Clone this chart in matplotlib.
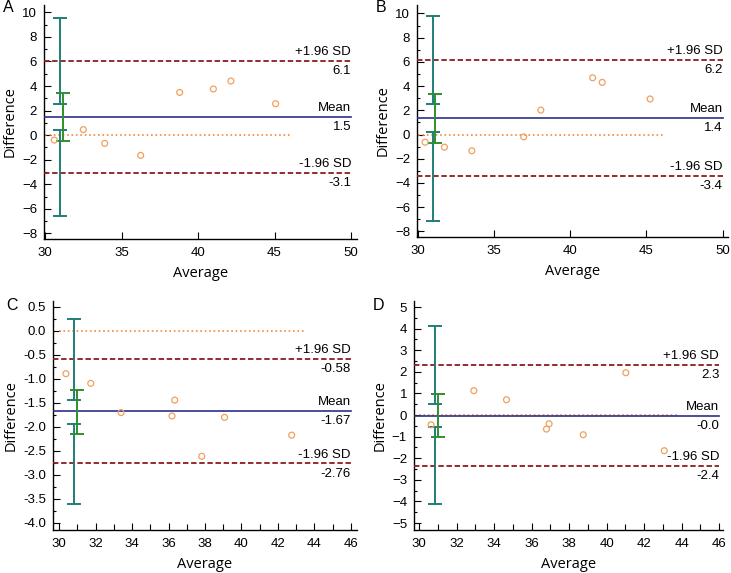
import matplotlib.pyplot as plt
from matplotlib.ticker import MultipleLocator

plt.rcParams['font.family'] = ['Liberation Sans', 'DejaVu Sans']

# --- data ------------------------------------------------------------------
A_avg = [30.6, 32.5, 33.9, 36.25, 38.8, 41.0, 42.15, 45.07]
A_diff = [-0.4, 0.45, -0.67, -1.65, 3.48, 3.76, 4.41, 2.56]
A_lines = [6.05, 1.49, -3.09]          # +1.96 SD, mean, -1.96 SD
A_labels = ['6.1', '1.5', '-3.1']
A_ci_hi = [2.56, 9.54]
A_ci_lo = [-6.56, 0.42]
A_ci_mean = [-0.45, 3.46]

B_avg = [30.48, 31.75, 33.55, 36.95, 38.07, 41.47, 42.1, 45.24]
B_diff = [-0.63, -1.04, -1.34, -0.19, 2.02, 4.69, 4.31, 2.94]
B_lines = [6.16, 1.35, -3.43]
B_labels = ['6.2', '1.4', '-3.4']
B_ci_hi = [2.51, 9.78]
B_ci_lo = [-7.11, 0.19]
B_ci_mean = [-0.68, 3.35]

C_avg = [30.38, 31.74, 33.4, 36.19, 36.34, 37.82, 39.07, 42.75]
C_diff = [-0.89, -1.09, -1.70, -1.77, -1.44, -2.61, -1.80, -2.17]
C_lines = [-0.58, -1.67, -2.76]
C_labels = ['-0.58', '-1.67', '-2.76']
C_ci_hi = [-1.43, 0.24]
C_ci_lo = [-3.60, -1.94]
C_ci_mean = [-2.14, -1.22]

D_avg = [30.64, 32.92, 34.66, 36.79, 36.93, 38.75, 41.02, 43.07]
D_diff = [-0.45, 1.13, 0.71, -0.65, -0.40, -0.91, 1.96, -1.65]
D_lines = [2.33, -0.03, -2.35]
D_labels = ['2.3', '-0.0', '-2.4']
D_ci_hi = [0.53, 4.10]
D_ci_lo = [-4.13, -0.57]
D_ci_mean = [-1.02, 0.96]

# --- layout / style --------------------------------------------------------
W, H = 731, 573
teal = '#1f7f78'
green = '#2f8f2f'
navy = '#2a2f8c'
darkred = '#8b1c1c'
orange = '#f0a060'

panels = [
    # letter, data..., pixel box (l, t, r, b), xlim, ylim, xmaj, xmin, ymaj, ymin,
    # x of teal bar, x of green bar, end of zero line, right end of lines
    ('A', A_avg, A_diff, A_lines, A_labels, A_ci_hi, A_ci_lo, A_ci_mean,
     (44, 5, 357, 239), (29.93, 50.39), (-8.46, 10.6), 5, None, 2, 1,
     31.0, 31.2, 46.0, 50),
    ('B', B_avg, B_diff, B_lines, B_labels, B_ci_hi, B_ci_lo, B_ci_mean,
     (417, 5, 728, 237), (29.95, 50.35), (-8.46, 10.7), 5, None, 2, 1,
     31.0, 31.15, 46.1, 50),
    ('C', C_avg, C_diff, C_lines, C_labels, C_ci_hi, C_ci_lo, C_ci_mean,
     (53, 301, 357, 530), (29.67, 46.33), (-4.146, 0.625), 2, 1, 0.5, 0.25,
     30.84, 30.99, 43.45, 46),
    ('D', D_avg, D_diff, D_lines, D_labels, D_ci_hi, D_ci_lo, D_ci_mean,
     (414, 301, 723, 530), (29.73, 46.2), (-5.32, 5.28), 2, 1, 1, 0.5,
     30.85, 31.01, 43.8, 46),
]

fig = plt.figure(figsize=(W / 100, H / 100), dpi=100)

for (letter, avg, diff, lines, labels, ci_hi, ci_lo, ci_mean, box, xlim, ylim,
     xmaj, xmin, ymaj, ymin, xteal, xgreen, zero_end, xright) in panels:
    l, t, r, b = box
    ax = fig.add_axes([l / W, 1 - b / H, (r - l) / W, (b - t) / H])
    ax.set_xlim(xlim)
    ax.set_ylim(ylim)
    for s in ['top', 'right']:
        ax.spines[s].set_visible(False)
    for s in ['left', 'bottom']:
        ax.spines[s].set_linewidth(1.0)
    ax.xaxis.set_major_locator(MultipleLocator(xmaj))
    if xmin:
        ax.xaxis.set_minor_locator(MultipleLocator(xmin))
        ax.tick_params(axis='x', which='minor', length=4)
    ax.yaxis.set_major_locator(MultipleLocator(ymaj))
    ax.yaxis.set_minor_locator(MultipleLocator(ymin))
    ax.tick_params(which='both', direction='in', labelsize=9.5, width=0.8)
    ax.tick_params(which='major', length=5)
    ax.tick_params(axis='y', which='minor', length=2.5)
    ax.tick_params(axis='y', which='major', pad=5)
    ax.tick_params(axis='x', which='major', pad=6)
    if letter == 'C':
        ax.yaxis.set_major_formatter(plt.FormatStrFormatter('%.1f'))

    # zero line
    ax.plot([30, zero_end], [0, 0], ls=':', color='#f08a3c', lw=1.2, zorder=2)
    # limits of agreement and mean
    ax.plot([xlim[0], xright], [lines[0]] * 2, ls='--', color=darkred, lw=1.3,
            dashes=(3, 1.5), zorder=3)
    ax.plot([xlim[0], xright], [lines[2]] * 2, ls='--', color=darkred, lw=1.3,
            dashes=(3, 1.5), zorder=3)
    ax.plot([xlim[0], xright], [lines[1]] * 2, color=navy, lw=1.2, zorder=3)

    # text labels
    for yv, top_txt, bot_txt in zip(lines, ['+1.96 SD', 'Mean', '-1.96 SD'], labels):
        ax.annotate(top_txt, (xright, yv), xytext=(0, 2), textcoords='offset points',
                    ha='right', va='bottom', fontsize=9.5)
        ax.annotate(bot_txt, (xright, yv), xytext=(0, -3), textcoords='offset points',
                    ha='right', va='top', fontsize=9.5)

    # confidence intervals
    for ci in [ci_hi, ci_lo]:
        mid = (ci[0] + ci[1]) / 2
        ax.errorbar([xteal], [mid], yerr=[[mid - ci[0]], [ci[1] - mid]], fmt='none',
                    ecolor=teal, elinewidth=1.4, capsize=5, capthick=1.4, zorder=4)
    mid = (ci_mean[0] + ci_mean[1]) / 2
    ax.errorbar([xgreen], [mid], yerr=[[mid - ci_mean[0]], [ci_mean[1] - mid]],
                fmt='none', ecolor=green, elinewidth=1.4, capsize=5, capthick=1.4,
                zorder=4)

    # points
    ax.scatter(avg, diff, s=18, facecolors='none', edgecolors=orange, linewidths=0.9,
               zorder=5)

    ax.set_xlabel('Average', fontsize=10.5, family=['Open Sans', 'DejaVu Sans'],
                  labelpad=5)
    ax.set_ylabel('Difference', fontsize=10.5, family=['Open Sans', 'DejaVu Sans'],
                  labelpad=3)
    ty = 8 if t < 100 else 306
    fig.text((l - 47) / W if letter == 'C' else (l - 41) / W, 1 - ty / H, letter,
             fontsize=11.5, ha='left', va='center')

fig.savefig('out.png', dpi=100)
